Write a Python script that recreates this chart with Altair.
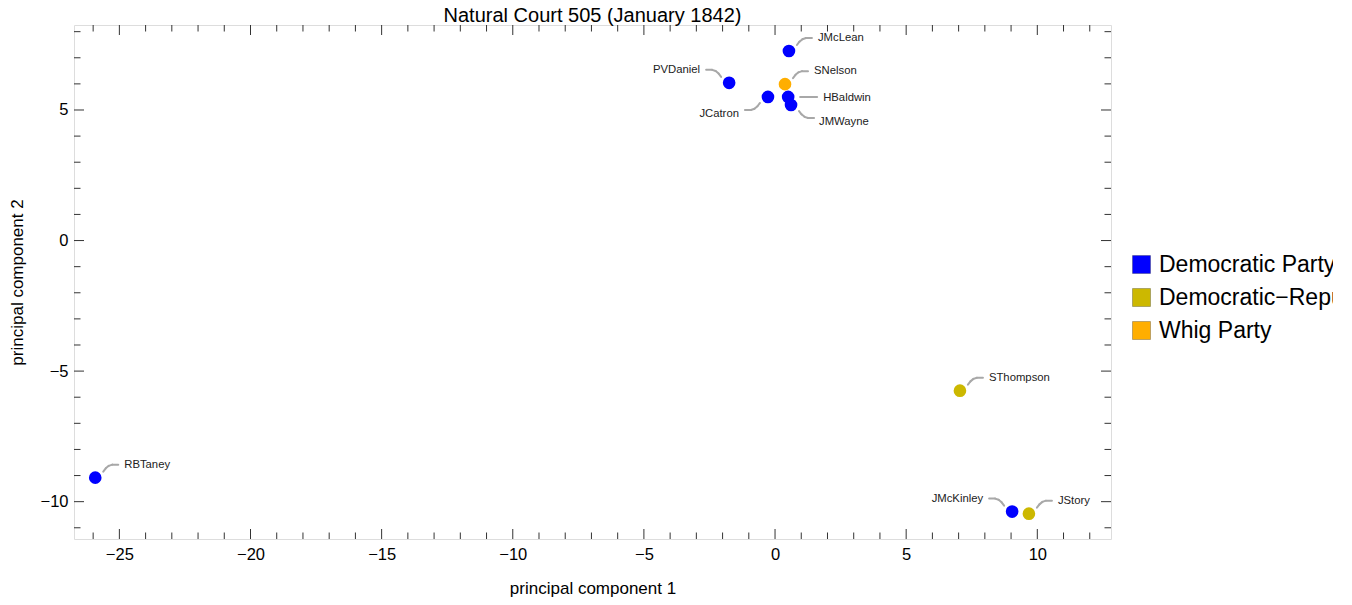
import altair as alt
import pandas as pd

# ---- data ----
names = ["RBTaney", "JMcLean", "HBaldwin", "JMWayne", "JCatron",
         "JMcKinley", "PVDaniel", "JStory", "SThompson", "SNelson"]
pc1 = [-25.92, 0.53, 0.50, 0.61, -0.27, 9.04, -1.75, 9.68, 7.05, 0.38]
pc2 = [-9.08, 7.26, 5.50, 5.19, 5.50, -10.38, 6.04, -10.46, -5.75, 5.99]
parties = ["Democratic Party", "Democratic Party", "Democratic Party",
           "Democratic Party", "Democratic Party", "Democratic Party",
           "Democratic Party", "Democratic\u2212Republican Party",
           "Democratic\u2212Republican Party", "Whig Party"]

party_order = ["Democratic Party", "Democratic\u2212Republican Party", "Whig Party"]
party_colors = ["#0000FF", "#CCB800", "#FFAE00"]

x_major = [-25, -20, -15, -10, -5, 0, 5, 10]
x_minor = [v for v in range(-26, 13) if v % 5 != 0]
y_major = [-10, -5, 0, 5]
y_minor = [v for v in range(-11, 9) if v % 5 != 0]

# label placement (direction of the leader line from each point)
placement = {"RBTaney": "ur", "JMcLean": "ur", "SNelson": "ur", "SThompson": "ur",
             "JStory": "ur", "PVDaniel": "ul", "JMcKinley": "ul",
             "JMWayne": "dr", "JCatron": "dl", "HBaldwin": "r"}

df = pd.DataFrame({"name": names, "pc1": pc1, "pc2": pc2, "party": parties})
df["place"] = df["name"].map(placement)

W, H = 1037, 514
FONT = "Liberation Sans"

xscale = alt.Scale(domain=[-26.73, 12.81], nice=False, zero=False)
yscale = alt.Scale(domain=[-11.43, 8.255], nice=False, zero=False)

xaxis = alt.Axis(values=x_major, ticks=False, domain=False, grid=False,
                 labelPadding=7, labelFontSize=16.5, labelFont=FONT, labelColor="black",
                 title="principal component 1", titleFont=FONT, titleFontSize=17,
                 titleFontWeight="normal", titleColor="black", titlePadding=18)
yaxis = alt.Axis(values=y_major, ticks=False, domain=False, grid=False,
                 labelPadding=6, labelFontSize=16.5, labelFont=FONT, labelColor="black",
                 title="principal component 2", titleFont=FONT, titleFontSize=17,
                 titleFontWeight="normal", titleColor="black", titlePadding=14)

X = alt.X("pc1:Q", scale=xscale, axis=xaxis)
Y = alt.Y("pc2:Q", scale=yscale, axis=yaxis)

layers = []

# ---- inward frame ticks ----
TICK = "#333333"
def xticks(vals, length):
    d = pd.DataFrame({"pc1": vals})
    bottom = alt.Chart(d).mark_rule(color=TICK, strokeWidth=1).encode(
        x=X, y=alt.value(H), y2=alt.value(H - length))
    top = alt.Chart(d).mark_rule(color=TICK, strokeWidth=1).encode(
        x=X, y=alt.value(0), y2=alt.value(length))
    return [bottom, top]

def yticks(vals, length):
    d = pd.DataFrame({"pc2": vals})
    left = alt.Chart(d).mark_rule(color=TICK, strokeWidth=1).encode(
        y=Y, x=alt.value(0), x2=alt.value(length))
    right = alt.Chart(d).mark_rule(color=TICK, strokeWidth=1).encode(
        y=Y, x=alt.value(W), x2=alt.value(W - length))
    return [left, right]

layers += xticks(x_major, 10) + xticks(x_minor, 6.5)
layers += yticks(y_major, 10) + yticks(y_minor, 6.5)

# ---- leader lines ----
curve = [(8, 6), (10.5, 9.3), (13.5, 11.8), (17, 13), (23, 13)]
dirs = {"ur": (1, -1), "ul": (-1, -1), "dr": (1, 1), "dl": (-1, 1)}
base = alt.Chart(df)
LEAD = "#A8A8A8"
for key, (sx, sy) in dirs.items():
    pts = [(sx * a, sy * b) for a, b in curve]
    for (x1, y1), (x2, y2) in zip(pts[:-1], pts[1:]):
        layers.append(
            base.transform_filter(alt.datum.place == key).mark_rule(
                color=LEAD, strokeWidth=2, strokeCap="round",
                xOffset=x1, yOffset=y1, x2Offset=x2, y2Offset=y2
            ).encode(x=X, y=Y, x2="pc1:Q", y2="pc2:Q")
        )
layers.append(
    base.transform_filter(alt.datum.place == "r").mark_rule(
        color=LEAD, strokeWidth=2, strokeCap="round",
        xOffset=12, yOffset=0, x2Offset=29, y2Offset=0
    ).encode(x=X, y=Y, x2="pc1:Q", y2="pc2:Q")
)

# ---- points ----
points = base.mark_point(filled=True, size=160, opacity=1, strokeWidth=0).encode(
    x=X, y=Y,
    color=alt.Color("party:N",
                    scale=alt.Scale(domain=party_order, range=party_colors),
                    legend=alt.Legend(orient="none", legendX=1056, legendY=228,
                                      title=None, symbolType="square", symbolSize=324,
                                      symbolStrokeWidth=1,
                                      symbolStrokeColor="rgba(0,0,0,0.25)",
                                      labelFontSize=23, labelFont=FONT,
                                      labelColor="black", labelOffset=6,
                                      rowPadding=9, labelLimit=1000, padding=0)),
)
layers.append(points)

# ---- point labels ----
label_specs = {"ur": ("left", 29, -13), "ul": ("right", -29, -13),
               "dr": ("left", 28, 17), "dl": ("right", -29, 17), "r": ("left", 35, 1)}
for key, (align, dx, dy) in label_specs.items():
    layers.append(
        base.transform_filter(alt.datum.place == key).mark_text(
            align=align, baseline="middle", dx=dx, dy=dy,
            fontSize=11.3, font=FONT, color="#222222"
        ).encode(x=X, y=Y, text="name:N")
    )

chart = alt.layer(*layers).properties(
    width=W, height=H,
    title=alt.TitleParams("Natural Court 505 (January 1842)", fontSize=20, font=FONT,
                          fontWeight="normal", color="black", anchor="middle", offset=-1),
    autosize=alt.AutoSizeParams(type="none"),
    padding={"left": 66, "top": 17, "right": 222, "bottom": 58},
).configure_view(stroke="#222222", strokeWidth=1).configure(background="white")

chart.save("out.html", embed_options={"renderer": "svg", "actions": False})
